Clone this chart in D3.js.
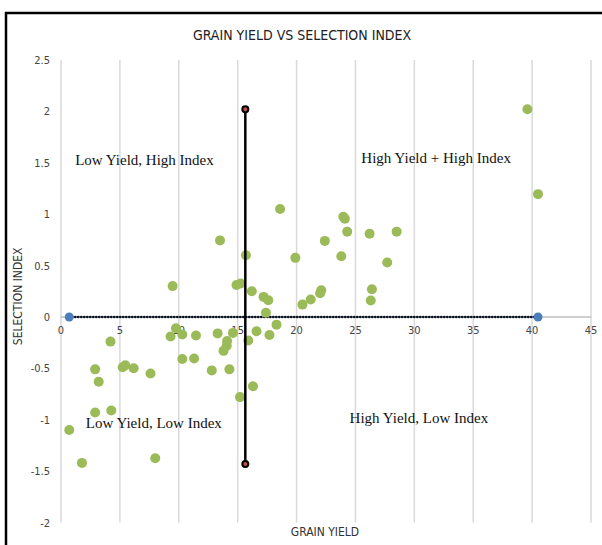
<!DOCTYPE html>
<html>
<head>
<meta charset="utf-8">
<script src="https://cdn.jsdelivr.net/npm/d3@7"></script>
<style>
  body { margin: 0; background: #fff; }
  svg { display: block; }
</style>
</head>
<body>
<div id="chart"></div>
<script>
// grain yield (x) and selection index (y)
var yieldVals = [0.7, 1.78, 2.9, 3.2, 2.9, 4.27, 4.2, 5.24, 5.46, 6.17, 7.6, 8.0, 9.3, 9.76, 10.3, 9.48,
  10.3, 11.3, 11.46, 12.8, 13.3, 13.5, 14.3, 14.1, 14.07, 13.8, 14.6, 14.9, 15.25, 15.2, 15.7, 15.9,
  16.2, 16.3, 16.6, 17.2, 17.6, 17.4, 17.7, 18.3, 18.6, 19.9, 20.5, 21.2, 22.0, 22.1, 22.4, 23.8,
  23.97, 24.1, 24.3, 26.2, 26.4, 26.3, 27.7, 28.5, 39.6, 40.5];
var indexVals = [-1.10, -1.42, -0.51, -0.63, -0.93, -0.91, -0.24, -0.49, -0.47, -0.50, -0.55, -1.375, -0.19, -0.11, -0.17, 0.30,
  -0.41, -0.405, -0.18, -0.52, -0.16, 0.745, -0.51, -0.235, -0.28, -0.33, -0.155, 0.31, 0.325, -0.78, 0.60, -0.23,
  0.25, -0.675, -0.14, 0.195, 0.163, 0.04, -0.175, -0.075, 1.05, 0.575, 0.12, 0.17, 0.23, 0.26, 0.74, 0.59,
  0.975, 0.955, 0.83, 0.81, 0.27, 0.16, 0.53, 0.83, 2.02, 1.195];

// reference lines
var meanYieldLine = { x: [15.65, 15.65], y: [2.02, -1.43] };
var zeroIndexLine = { x: [0.7, 40.5], y: [0, 0] };

var xTicks = [0, 5, 10, 15, 20, 25, 30, 35, 40, 45];
var yTicks = [-2, -1.5, -1, -0.5, 0, 0.5, 1, 1.5, 2, 2.5];

var quadLabels = [
  { text: "Low Yield, High Index", x: 1.2, y: 1.48 },
  { text: "High Yield + High Index", x: 25.5, y: 1.5 },
  { text: "Low Yield, Low Index", x: 2.1, y: -1.08 },
  { text: "High Yield, Low Index", x: 24.5, y: -1.03 }
];

var W = 602, H = 545;
var svg = d3.select("#chart").append("svg").attr("width", W).attr("height", H);

// chart frame (only top and left edges show in the picture)
svg.append("path").attr("d", "M6,546 L6,13 L603,13")
  .attr("fill", "none").attr("stroke", "#000").attr("stroke-width", 2.5);

var x = d3.scaleLinear().domain([0, 45]).range([61, 591]);
var y = d3.scaleLinear().domain([-2, 2.5]).range([522.5, 60]);

var condensed = "'Liberation Sans Narrow', 'Arial Narrow', 'DejaVu Sans Condensed', sans-serif";

svg.append("text").attr("x", 302).attr("y", 40).attr("text-anchor", "middle")
  .style("font-family", condensed).style("font-size", "14px").style("fill", "#222")
  .text("GRAIN YIELD VS SELECTION INDEX");

// vertical gridlines
svg.append("g").selectAll("line").data(xTicks).enter().append("line")
  .attr("x1", function (d) { return x(d); }).attr("x2", function (d) { return x(d); })
  .attr("y1", y(2.5)).attr("y2", y(-2))
  .attr("stroke", "#d9d9d9").attr("stroke-width", 1.5);

// horizontal axis line at zero
svg.append("line").attr("x1", x(0)).attr("x2", x(45)).attr("y1", y(0)).attr("y2", y(0))
  .attr("stroke", "#bfbfbf").attr("stroke-width", 1.5);

// tick labels
svg.append("g").selectAll("text").data(yTicks).enter().append("text")
  .attr("x", 50).attr("y", function (d) { return y(d) + 4; })
  .attr("text-anchor", "end")
  .style("font-family", condensed).style("font-size", "11px").style("fill", "#444")
  .text(function (d) { return d; });

svg.append("g").selectAll("text").data(xTicks).enter().append("text")
  .attr("x", function (d) { return x(d); }).attr("y", y(0) + 17)
  .attr("text-anchor", "middle")
  .style("font-family", condensed).style("font-size", "11px").style("fill", "#444")
  .text(function (d) { return d; });

// axis titles
svg.append("text").attr("x", 325).attr("y", 536).attr("text-anchor", "middle")
  .style("font-family", condensed).style("font-size", "12px").style("fill", "#333")
  .text("GRAIN YIELD");
svg.append("text").attr("transform", "translate(22," + y(0.2) + ") rotate(-90)")
  .attr("text-anchor", "middle")
  .style("font-family", condensed).style("font-size", "12px").style("fill", "#333")
  .text("SELECTION INDEX");

// zero index dotted line with blue ends
svg.append("line")
  .attr("x1", x(zeroIndexLine.x[0])).attr("x2", x(zeroIndexLine.x[1]))
  .attr("y1", y(zeroIndexLine.y[0])).attr("y2", y(zeroIndexLine.y[1]))
  .attr("stroke", "#4f81bd").attr("stroke-width", 1);
svg.append("line")
  .attr("x1", x(zeroIndexLine.x[0])).attr("x2", x(zeroIndexLine.x[1]))
  .attr("y1", y(zeroIndexLine.y[0])).attr("y2", y(zeroIndexLine.y[1]))
  .attr("stroke", "#0d0d1a").attr("stroke-width", 2.6)
  .attr("stroke-dasharray", "0,3").attr("stroke-linecap", "round");
svg.append("g").selectAll("circle").data(zeroIndexLine.x).enter().append("circle")
  .attr("cx", function (d) { return x(d); }).attr("cy", y(0)).attr("r", 4.5)
  .attr("fill", "#4a7ebb");

// scatter points
var pts = yieldVals.map(function (v, i) { return [v, indexVals[i]]; });
svg.append("g").selectAll("circle").data(pts).enter().append("circle")
  .attr("cx", function (d) { return x(d[0]); })
  .attr("cy", function (d) { return y(d[1]); })
  .attr("r", 5)
  .attr("fill", "#9bbb59");

// mean yield vertical line
svg.append("line")
  .attr("x1", x(meanYieldLine.x[0])).attr("x2", x(meanYieldLine.x[1]))
  .attr("y1", y(meanYieldLine.y[0])).attr("y2", y(meanYieldLine.y[1]))
  .attr("stroke", "#000").attr("stroke-width", 2.5);
svg.append("g").selectAll("circle").data(meanYieldLine.y).enter().append("circle")
  .attr("cx", x(meanYieldLine.x[0])).attr("cy", function (d) { return y(d); }).attr("r", 3)
  .attr("fill", "#c0504d").attr("stroke", "#000").attr("stroke-width", 2);

// quadrant labels
svg.append("g").selectAll("text").data(quadLabels).enter().append("text")
  .attr("x", function (d) { return x(d.x); }).attr("y", function (d) { return y(d.y); })
  .style("font-family", "'Liberation Serif', 'Times New Roman', serif")
  .style("font-size", "15px").style("fill", "#111")
  .text(function (d) { return d.text; });
</script>
</body>
</html>
